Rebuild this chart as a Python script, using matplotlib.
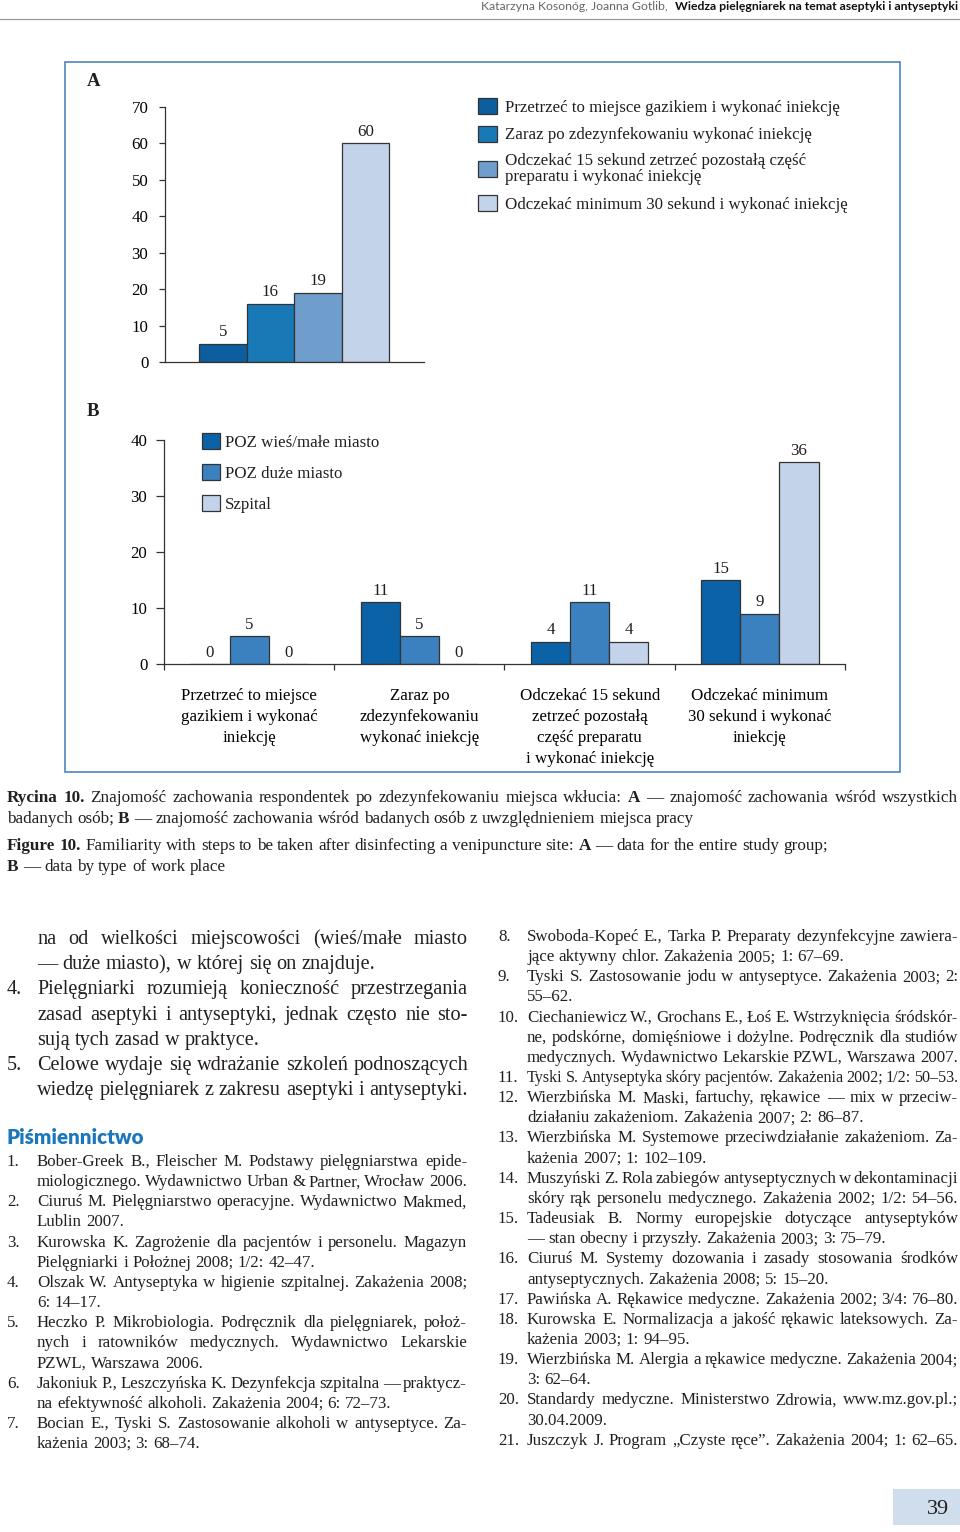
import numpy as np
import matplotlib
matplotlib.use("Agg")
import matplotlib.pyplot as plt
from matplotlib.font_manager import FontProperties
from matplotlib.patches import Rectangle

W, H, DPI = 960, 1532, 100

# ---------------- data ----------------
a_series = ["Przetrzeć to miejsce gazikiem i wykonać iniekcję",
            "Zaraz po zdezynfekowaniu wykonać iniekcję",
            "Odczekać 15 sekund zetrzeć pozostałą część\npreparatu i wykonać iniekcję",
            "Odczekać minimum 30 sekund i wykonać iniekcję"]
a_values = [5, 16, 19, 60]
a_yticks = [0, 10, 20, 30, 40, 50, 60, 70]

b_categories = ["Przetrzeć to miejsce\ngazikiem i wykonać\niniekcję",
                "Zaraz po\nzdezynfekowaniu\nwykonać iniekcję",
                "Odczekać 15 sekund\nzetrzeć pozostałą\nczęść preparatu\ni wykonać iniekcję",
                "Odczekać minimum\n30 sekund i wykonać\niniekcję"]
b_series = ["POZ wieś/małe miasto", "POZ duże miasto", "Szpital"]
b_wies = [0, 11, 4, 15]
b_duze = [5, 5, 11, 9]
b_szpital = [0, 0, 4, 36]
b_yticks = [0, 10, 20, 30, 40]

header_authors = "Katarzyna Kosonóg, Joanna Gotlib,"
header_title = "Wiedza pielęgniarek na temat aseptyki i antyseptyki"

caption_lines = [
    [("Rycina 10.", "bold"), ("Znajomość zachowania respondentek po zdezynfekowaniu miejsca wkłucia:", "normal"),
     ("A", "bold"), ("— znajomość zachowania wśród wszystkich", "normal")],
    [("badanych osób;", "normal"), ("B", "bold"),
     ("— znajomość zachowania wśród badanych osób z uwzględnieniem miejsca pracy", "normal")],
    [("Figure 10.", "bold"), ("Familiarity with steps to be taken after disinfecting a venipuncture site:", "normal"),
     ("A", "bold"), ("— data for the entire study group;", "normal")],
    [("B", "bold"), ("— data by type of work place", "normal")],
]

body_lines = [
    (None, "na od wielkości miejscowości (wieś/małe miasto", True),
    (None, "— duże miasto), w której się on znajduje.", False),
    ("4.", "Pielęgniarki rozumieją konieczność przestrzegania", True),
    (None, "zasad aseptyki i antyseptyki, jednak często nie sto-", True),
    (None, "sują tych zasad w praktyce.", False),
    ("5.", "Celowe wydaje się wdrażanie szkoleń podnoszących", True),
    (None, "wiedzę pielęgniarek z zakresu aseptyki i antyseptyki.", True),
]

refs_left = [
    ("1.", ["Bober-Greek B., Fleischer M. Podstawy pielęgniarstwa epide-",
            "miologicznego. Wydawnictwo Urban & Partner, Wrocław 2006."]),
    ("2.", ["Ciuruś M. Pielęgniarstwo operacyjne. Wydawnictwo Makmed,", "Lublin 2007."]),
    ("3.", ["Kurowska K. Zagrożenie dla pacjentów i personelu. Magazyn",
            "Pielęgniarki i Położnej 2008; 1/2: 42–47."]),
    ("4.", ["Olszak W. Antyseptyka w higienie szpitalnej. Zakażenia 2008;", "6: 14–17."]),
    ("5.", ["Heczko P. Mikrobiologia. Podręcznik dla pielęgniarek, położ-",
            "nych i ratowników medycznych. Wydawnictwo Lekarskie", "PZWL, Warszawa 2006."]),
    ("6.", ["Jakoniuk P., Leszczyńska K. Dezynfekcja szpitalna — praktycz-",
            "na efektywność alkoholi. Zakażenia 2004; 6: 72–73."]),
    ("7.", ["Bocian E., Tyski S. Zastosowanie alkoholi w antyseptyce. Za-", "każenia 2003; 3: 68–74."]),
]
refs_right = [
    ("8.", ["Swoboda-Kopeć E., Tarka P. Preparaty dezynfekcyjne zawiera-",
            "jące aktywny chlor. Zakażenia 2005; 1: 67–69."]),
    ("9.", ["Tyski S. Zastosowanie jodu w antyseptyce. Zakażenia 2003; 2:", "55–62."]),
    ("10.", ["Ciechaniewicz W., Grochans E., Łoś E. Wstrzyknięcia śródskór-",
             "ne, podskórne, domięśniowe i dożylne. Podręcznik dla studiów",
             "medycznych. Wydawnictwo Lekarskie PZWL, Warszawa 2007."]),
    ("11.", ["Tyski S. Antyseptyka skóry pacjentów. Zakażenia 2002; 1/2: 50–53."]),
    ("12.", ["Wierzbińska M. Maski, fartuchy, rękawice — mix w przeciw-",
             "działaniu zakażeniom. Zakażenia 2007; 2: 86–87."]),
    ("13.", ["Wierzbińska M. Systemowe przeciwdziałanie zakażeniom. Za-", "każenia 2007; 1: 102–109."]),
    ("14.", ["Muszyński Z. Rola zabiegów antyseptycznych w dekontaminacji",
             "skóry rąk personelu medycznego. Zakażenia 2002; 1/2: 54–56."]),
    ("15.", ["Tadeusiak B. Normy europejskie dotyczące antyseptyków",
             "— stan obecny i przyszły. Zakażenia 2003; 3: 75–79."]),
    ("16.", ["Ciuruś M. Systemy dozowania i zasady stosowania środków",
             "antyseptycznych. Zakażenia 2008; 5: 15–20."]),
    ("17.", ["Pawińska A. Rękawice medyczne. Zakażenia 2002; 3/4: 76–80."]),
    ("18.", ["Kurowska E. Normalizacja a jakość rękawic lateksowych. Za-", "każenia 2003; 1: 94–95."]),
    ("19.", ["Wierzbińska M. Alergia a rękawice medyczne. Zakażenia 2004;", "3: 62–64."]),
    ("20.", ["Standardy medyczne. Ministerstwo Zdrowia, www.mz.gov.pl.;", "30.04.2009."]),
    ("21.", ["Juszczyk J. Program „Czyste ręce”. Zakażenia 2004; 1: 62–65."]),
]
heading = "Piśmiennictwo"
page_number = "39"

# ---------------- styles ----------------
a_colors = ['#0c5e9e', '#1979b6', '#6f9ecd', '#c2d3ea']
b_colors = ['#0b62a6', '#3b80bf', '#c3d3ea']
EDGE = '#333333'
TXT = '#231f20'
SERIF = ['Liberation Serif', 'DejaVu Serif']
SANS = ['Lato', 'DejaVu Sans']

plt.rcParams['font.family'] = SERIF
plt.rcParams['text.color'] = TXT

fig = plt.figure(figsize=(W / DPI, H / DPI), dpi=DPI)
R = fig.canvas.get_renderer()

ov = fig.add_axes([0, 0, 1, 1])
ov.axis('off')


def tw(s, fp):
    w, h, d = R.get_text_width_height_descent(s, fp, ismath=False)
    return w


def fp_of(size, weight='normal', family=SERIF):
    return FontProperties(family=family, size=size, weight=weight)


def split_words(segs):
    words = []
    for text, wt in segs:
        for w in text.split():
            words.append((w, wt))
    return words


def nat_width(segs, size, family=SERIF):
    words = split_words(segs)
    sp = tw('a a', fp_of(size, family=family)) - tw('aa', fp_of(size, family=family))
    return sum(tw(w, fp_of(size, wt, family)) for w, wt in words) + sp * (len(words) - 1)


def draw_words(x0, x1, yb, segs, size, justify, family=SERIF, color=TXT):
    words = split_words(segs)
    while True:
        fps = {wt: fp_of(size, wt, family) for wt in ('normal', 'bold')}
        widths = [tw(w, fps[wt]) for w, wt in words]
        sp = tw('a a', fps['normal']) - tw('aa', fps['normal'])
        if justify and len(words) > 1:
            gap = (x1 - x0 - sum(widths)) / (len(words) - 1)
            if gap < 0.6 * sp:
                size *= 0.985
                continue
        else:
            gap = sp
        break
    x = x0
    for (w, wt), wd in zip(words, widths):
        ov.text(x, yb, w, fontproperties=fps[wt], ha='left', va='baseline', color=color)
        x += wd + gap


def ax_rect(x0, ytop, x1, ybot):
    return [x0 / W, 1 - ybot / H, (x1 - x0) / W, (ybot - ytop) / H]


# ---------------- header ----------------
hsize0 = 8.0
gap_h = 7
w_tot = tw(header_title, fp_of(hsize0, 'bold', SANS)) + tw(header_authors, fp_of(hsize0, 'normal', SANS))
hsize = hsize0 * (482 - gap_h) / w_tot
fpb = fp_of(hsize, 'bold', SANS)
wb = tw(header_title, fpb)
ov.text(958, 10, header_title, fontproperties=fpb, ha='right', va='baseline', color='#111111')
ov.text(958 - wb - gap_h, 10, header_authors, fontproperties=fp_of(hsize, 'normal', SANS),
        ha='right', va='baseline', color='#666666')
ov.plot([0, W], [18.5, 18.5], color='#9a9a9a', lw=0.9)

# ---------------- frame ----------------
ov.add_patch(Rectangle((65, 62), 835, 710, fill=False, ec='#5a8fc2', lw=1.3))

CH = 12.2  # chart font size
ov.text(87, 86, "A", fontproperties=fp_of(13.5, 'bold'), ha='left', va='baseline')
ov.text(87, 416, "B", fontproperties=fp_of(13.5, 'bold'), ha='left', va='baseline')

# ---------------- panel A ----------------
axA = fig.add_axes(ax_rect(165, 107, 424, 362))
axA.patch.set_alpha(0)
xa = np.arange(len(a_values))
barsA = axA.bar(xa, a_values, width=1.0, color=a_colors, edgecolor=EDGE, linewidth=0.9)
axA.set_ylim(0, 70)
axA.set_xlim(-1.216, 4.236)
axA.set_yticks(a_yticks)
axA.set_xticks([])
for s in ('top', 'right'):
    axA.spines[s].set_visible(False)
for s in ('left', 'bottom'):
    axA.spines[s].set_color(EDGE)
    axA.spines[s].set_linewidth(0.9)
axA.tick_params(axis='y', direction='out', length=4, width=0.9, color=EDGE, pad=8, labelsize=CH)
for x, v in zip(xa, a_values):
    axA.annotate(str(v), (x, v), xytext=(0, 2.5), textcoords='offset points',
                 ha='center', va='bottom', fontsize=CH)
legA = fig.legend(list(barsA.patches), a_series, loc='upper left',
                  bbox_to_anchor=(478 / W, 1 - 98 / H), borderaxespad=0, borderpad=0,
                  frameon=False, fontsize=CH, handlelength=1.1, handleheight=1.1,
                  handletextpad=0.5, labelspacing=0.57)
for t in legA.get_texts():
    t.set_linespacing(1.0)

# ---------------- panel B ----------------
axB = fig.add_axes(ax_rect(164, 440, 845, 664))
axB.patch.set_alpha(0)
xb = np.arange(len(b_categories)) + 0.5
bw = 0.23
barsB = []
for i, (vals, lab, col) in enumerate(zip([b_wies, b_duze, b_szpital], b_series, b_colors)):
    pos = xb + (i - 1) * bw
    bc = axB.bar(pos, vals, width=bw, color=col, edgecolor=EDGE, linewidth=0.9, label=lab)
    barsB.append(bc)
    for x, v in zip(pos, vals):
        axB.annotate(str(v), (x, v), xytext=(0, 2.5), textcoords='offset points',
                     ha='center', va='bottom', fontsize=CH)
axB.set_ylim(0, 40)
axB.set_xlim(0, 4)
axB.set_yticks(b_yticks)
axB.set_xticks(np.arange(5), labels=[''] * 5)
axB.set_xticks(xb, labels=b_categories, minor=True)
for s in ('top', 'right'):
    axB.spines[s].set_visible(False)
for s in ('left', 'bottom'):
    axB.spines[s].set_color(EDGE)
    axB.spines[s].set_linewidth(0.9)
axB.tick_params(axis='y', direction='out', length=6, width=0.9, color=EDGE, pad=6, labelsize=CH)
axB.tick_params(axis='x', which='major', direction='out', length=4, width=0.9, color=EDGE)
axB.tick_params(axis='x', which='minor', length=0, pad=17.5, labelsize=CH)
for t in axB.get_xticklabels(minor=True):
    t.set_linespacing(1.42)
legB = fig.legend(barsB, b_series, loc='upper left',
                  bbox_to_anchor=(202 / W, 1 - 433 / H), borderaxespad=0, borderpad=0,
                  frameon=False, fontsize=CH, handlelength=1.05, handleheight=1.05,
                  handletextpad=0.28, labelspacing=0.8)

# ---------------- caption ----------------
cap_size = 10 * 689 / nat_width(caption_lines[1], 10)
cap_base = [802, 823, 850, 871]
for segs, yb, just in zip(caption_lines, cap_base, [True, False, False, False]):
    draw_words(7, 958, yb, segs, cap_size, just)

# ---------------- body text (left column) ----------------
body_size = 10 * 431 / nat_width([(body_lines[6][1], 'normal')], 10)
for i, (num, text, just) in enumerate(body_lines):
    yb = 944 + i * 25.2
    if num:
        ov.text(7, yb, num, fontproperties=fp_of(body_size), ha='left', va='baseline')
    draw_words(37, 468, yb, [(text, 'normal')], body_size, just)

# heading
hfp = fp_of(12, 'heavy', SANS)
hsz = 12 * 136 / tw(heading, hfp)
ov.text(7, 1143.5, heading, fontproperties=fp_of(hsz, 'heavy', SANS), ha='left', va='baseline',
        color='#1c76bb')

# ---------------- references ----------------
ref_size = 10 * 431 / nat_width([("medycznych. Wydawnictwo Lekarskie PZWL, Warszawa 2007.", 'normal')], 10)


def draw_refs(refs, xnum, x0, x1, y0, step=20.15):
    k = 0
    for num, lines in refs:
        for j, line in enumerate(lines):
            yb = y0 + k * step
            if j == 0:
                ov.text(xnum, yb, num, fontproperties=fp_of(ref_size), ha='left', va='baseline')
            last = (j == len(lines) - 1)
            nw = nat_width([(line, 'normal')], ref_size)
            just = (not last) or nw > 0.9 * (x1 - x0)
            draw_words(x0, x1, yb, [(line, 'normal')], ref_size, just)
            k += 1


draw_refs(refs_left, 7, 37, 467, 1166)
draw_refs(refs_right, 498, 527, 958, 941)

# ---------------- page number ----------------
ov.add_patch(Rectangle((893, 1489), 67, 36, color='#d0dded', lw=0))
ov.text(938, 1514, page_number, fontproperties=fp_of(16), ha='center', va='baseline')

ov.set_xlim(0, W)
ov.set_ylim(H, 0)

fig.savefig('out.png', dpi=DPI)
